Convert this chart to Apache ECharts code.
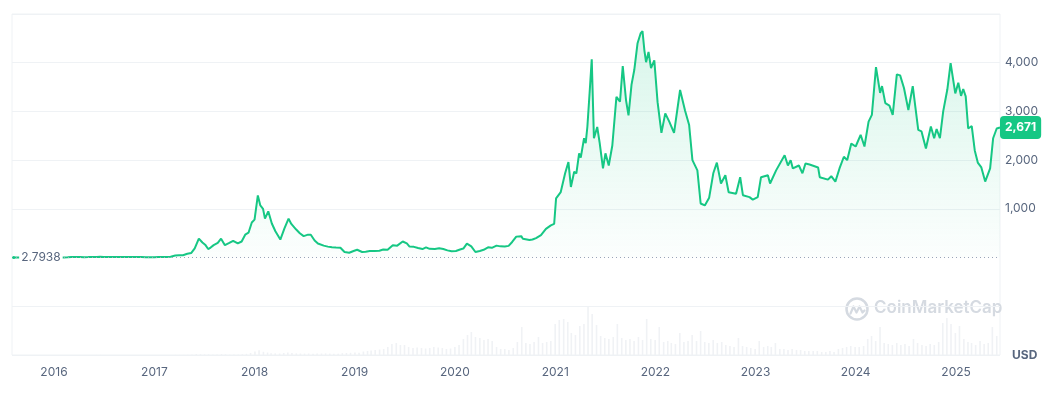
<!DOCTYPE html>
<html><head><meta charset="utf-8">
<script src="https://cdn.jsdelivr.net/npm/echarts@6/dist/echarts.min.js"></script>
<style>html,body{margin:0;padding:0;background:#fff}#c{width:1053px;height:398px}</style>
</head><body><div id="c"></div>
<script>
// ---- data (USD price, ETH) ----
const priceDates = [
'2015-08-07','2015-08-20','2015-09-05','2015-09-20','2015-10-05','2015-10-20','2015-11-05','2015-11-20','2015-12-05','2015-12-20',
'2016-01-05','2016-01-20','2016-02-05','2016-02-20','2016-03-05','2016-03-20','2016-04-05','2016-04-20','2016-05-05','2016-05-20','2016-06-05','2016-06-17','2016-06-30','2016-07-15','2016-08-01','2016-08-15','2016-09-01','2016-09-15','2016-10-01','2016-10-15','2016-11-01','2016-11-15','2016-12-01','2016-12-15',
'2017-01-01','2017-01-15','2017-02-01','2017-02-15','2017-03-01','2017-03-18','2017-04-01','2017-04-15','2017-05-01','2017-05-15','2017-05-28','2017-06-12','2017-06-25','2017-07-05','2017-07-16','2017-07-25','2017-08-05','2017-08-20','2017-09-01','2017-09-15','2017-10-01','2017-10-15','2017-11-01','2017-11-15','2017-11-28','2017-12-10','2017-12-22',
'2018-01-01','2018-01-13','2018-01-22','2018-02-01','2018-02-08','2018-02-20','2018-03-05','2018-03-18','2018-04-05','2018-04-20','2018-05-05','2018-05-15','2018-06-01','2018-06-15','2018-06-29','2018-07-15','2018-07-25','2018-08-08','2018-08-20','2018-09-10','2018-09-25','2018-10-10','2018-10-25','2018-11-10','2018-11-25','2018-12-12','2018-12-28',
'2019-01-10','2019-01-28','2019-02-10','2019-02-25','2019-03-15','2019-04-01','2019-04-15','2019-05-01','2019-05-20','2019-06-05','2019-06-25','2019-07-10','2019-07-20','2019-08-05','2019-08-20','2019-09-05','2019-09-18','2019-10-01','2019-10-20','2019-11-05','2019-11-20','2019-12-05','2019-12-20',
'2020-01-05','2020-01-20','2020-02-01','2020-02-14','2020-03-01','2020-03-16','2020-04-01','2020-04-15','2020-05-01','2020-05-15','2020-06-01','2020-06-15','2020-07-01','2020-07-15','2020-07-28','2020-08-12','2020-08-30','2020-09-05','2020-09-29','2020-10-10','2020-10-23','2020-11-10','2020-11-28','2020-12-16','2020-12-28',
'2021-01-04','2021-01-21','2021-02-06','2021-02-18','2021-02-27','2021-03-11','2021-03-19','2021-03-29','2021-04-04','2021-04-16','2021-04-22','2021-04-28','2021-05-07','2021-05-14','2021-05-22','2021-06-03','2021-06-12','2021-06-24','2021-07-03','2021-07-15','2021-07-28','2021-08-12','2021-08-25','2021-09-04','2021-09-16','2021-09-25','2021-10-06','2021-10-16','2021-10-28','2021-11-08','2021-11-15','2021-11-22','2021-11-28','2021-12-07','2021-12-16','2021-12-28',
'2022-01-09','2022-01-23','2022-02-06','2022-02-21','2022-03-10','2022-04-01','2022-04-19','2022-05-04','2022-05-16','2022-06-03','2022-06-15','2022-06-30','2022-07-16','2022-07-31','2022-08-13','2022-08-28','2022-09-13','2022-09-25','2022-10-22','2022-11-06','2022-11-16','2022-12-10','2022-12-22',
'2023-01-09','2023-01-21','2023-02-15','2023-02-23','2023-03-17','2023-04-17','2023-04-29','2023-05-09','2023-05-17','2023-06-08','2023-06-21','2023-07-02','2023-07-17','2023-08-17','2023-08-23','2023-09-22','2023-10-04','2023-10-19','2023-11-03','2023-11-19','2023-12-01','2023-12-16',
'2024-01-01','2024-01-19','2024-02-02','2024-02-17','2024-02-29','2024-03-15','2024-03-30','2024-04-06','2024-04-18','2024-05-03','2024-05-15','2024-05-30','2024-06-11','2024-06-25','2024-07-11','2024-07-27','2024-08-16','2024-08-28','2024-09-13','2024-10-01','2024-10-13','2024-10-22','2024-11-03','2024-11-15','2024-11-30','2024-12-12','2024-12-29',
'2025-01-09','2025-01-19','2025-01-27','2025-02-05','2025-02-14','2025-02-27','2025-03-10','2025-03-21','2025-04-03','2025-04-17','2025-05-05','2025-05-16','2025-05-29','2025-06-10'
];
const prices = [
2.7938,1.35,1.25,0.88,0.62,0.48,1.05,0.93,0.85,0.88,
0.96,1.6,2.5,4.5,10.5,11.0,10.5,8.2,9.5,13.5,14.0,18.5,12.5,11.5,10.5,11.0,12.0,12.5,13.2,12.0,10.8,9.9,8.5,7.8,
8.2,9.8,10.7,13.0,17,42,50,48,78,92,190,390,310,265,175,205,255,300,388,255,300,345,290,330,470,510,720,
780,1275,1070,1000,800,950,700,540,370,600,800,690,580,500,440,470,470,350,290,245,225,210,205,200,115,100,135,
160,115,120,135,135,140,165,160,255,245,330,290,225,220,195,175,210,180,175,190,175,148,128,
135,165,185,285,230,115,135,160,210,200,245,230,228,240,320,430,440,385,360,370,400,460,590,660,690,
1215,1345,1730,1960,1450,1760,1730,2140,2050,2450,2350,2680,3450,4070,2450,2680,2350,1830,2140,1890,2300,3300,3200,3930,3230,2920,3550,3850,4400,4600,4650,4250,4010,4220,3890,4050,
3190,2560,2960,2785,2560,3440,3020,2720,2000,1790,1110,1070,1230,1730,1950,1520,1690,1340,1310,1650,1280,1240,1190,
1240,1650,1690,1520,1790,2100,1890,2000,1830,1890,1730,1930,1910,1850,1650,1600,1670,1560,1830,2070,2000,2340,
2280,2520,2280,2790,2930,3910,3380,3520,3170,3120,2930,3760,3740,3480,3030,3520,2620,2590,2240,2690,2450,2640,2450,3000,3450,3990,3370,
3590,3320,3460,3310,2650,2700,2200,1950,1850,1560,1830,2450,2650,2671
];
// trading volume, billions USD, twice a month (1st and 16th)
const vol2015 = [0.002,0.001,0.001,0.001,0.001,0.001,0.001,0.001,0.001,0.002];
const vol2016 = [0.002,0.005,0.02,0.03,0.08,0.1,0.05,0.04,0.03,0.03,0.08,0.15,0.1,0.05,0.03,0.03,0.03,0.02,0.02,0.02,0.02,0.02,0.02,0.02];
const vol2017 = [0.02,0.02,0.03,0.03,0.08,0.15,0.12,0.12,0.3,0.5,0.9,0.8,0.7,0.6,0.6,0.5,0.9,0.6,0.4,0.4,0.5,0.8,1.2,2.0];
const vol2018 = [3.5,4.8,3.2,2.5,1.8,1.6,1.5,2.0,2.4,1.9,1.6,1.5,1.4,1.5,1.3,1.4,1.5,1.6,1.4,1.3,1.3,1.8,2.0,2.2];
const vol2019 = [2.5,2.2,3.5,4,4.5,5,5.5,6,8,11,12,10,10,8,7,7.5,7,6.5,7,8,7.5,7,6,6.5];
const vol2020 = [8,10,16,20,23,18,17,15,16,14,8,6,6,5,7,13,28,12,11,13,18,12,13,14];
const vol2021 = [31,35,36,33,22,20,29,31,48,41,30,19,17,16,18,31,17,15,16,14,18,15,36,16];
const vol2022 = [15,28,13,14,12,11,22,13,14,20,14,24,13,12,15,12,13,10,9,8,17,9,8,7];
const vol2023 = [6,14,8,9,8,12,6,6,5,6,5,5,4,4,4,4,3,3,4,3,6,7,8,9];
const vol2024 = [8,8,9,16,19,14,28,12,11,10,12,10,11,9,16,12,10,9,11,10,13,32,37,31];
const vol2025 = [22,29,16,13,12,10,14,11,12,28,19];
const priceTickLabels = [1000, 2000, 3000, 4000];
const startPrice = 2.7938;
const lastPrice = 2671;

// ---- build series ----
const priceData = priceDates.map((d, i) => [d, prices[i]]);
const volumes = [].concat(vol2015, vol2016, vol2017, vol2018, vol2019, vol2020, vol2021, vol2022, vol2023, vol2024, vol2025);
const volData = [];
{
  let y = 2015, m = 8, half = 0;
  for (let i = 0; i < volumes.length; i++) {
    volData.push([y + '-' + String(m).padStart(2, '0') + (half ? '-16' : '-01'), volumes[i]]);
    if (half) { half = 0; m++; if (m > 12) { m = 1; y++; } } else half = 1;
  }
}
const GREEN = '#16c784';
const LABEL = '#58667e';
const GRID = '#eff2f5';
const FONT = 'Inter, "Noto Sans", sans-serif';

const chart = echarts.init(document.getElementById('c'), null, {renderer: 'canvas'});
chart.setOption({
  animation: false,
  textStyle: {fontFamily: FONT},
  grid: [
    {left: 12, right: 53, top: 14, bottom: 43, show: true, borderColor: GRID, borderWidth: 1},
    {left: 12, right: 53, top: 300, bottom: 43}
  ],
  xAxis: [
    {type: 'time', gridIndex: 0, min: '2015-08-01', max: '2025-06-10', splitNumber: 10,
     minInterval: 360 * 24 * 3600 * 1000,
     axisLine: {show: false}, axisTick: {show: false}, splitLine: {show: false},
     axisLabel: {color: LABEL, fontSize: 12, margin: 11, fontFamily: FONT,
       formatter: {year: '{yyyy}', month: '', day: '', hour: '', minute: '', second: '', millisecond: '', none: ''}}},
    {type: 'time', gridIndex: 1, min: '2015-08-01', max: '2025-06-10', show: false}
  ],
  yAxis: [
    {type: 'value', gridIndex: 0, position: 'right', min: -2000, max: 5000, interval: 1000,
     axisLine: {show: false}, axisTick: {show: false},
     splitLine: {show: true, lineStyle: {color: [GRID, GRID, 'rgba(0,0,0,0)', GRID, GRID, GRID, GRID, GRID], width: 1}},
     axisLabel: {color: LABEL, fontSize: 12, margin: 5, fontFamily: FONT,
       formatter: v => priceTickLabels.indexOf(v) >= 0 ? v.toLocaleString('en-US') : (v === -2000 ? '{u|USD}' : ''),
       rich: {u: {fontWeight: 'bold', fontSize: 12, color: LABEL, padding: [0, 0, 0, 7], fontFamily: FONT}}}},
    {type: 'value', gridIndex: 1, min: 0, max: 55, show: false}
  ],
  series: [
    {type: 'bar', xAxisIndex: 1, yAxisIndex: 1, data: volData, barWidth: 1.6,
     itemStyle: {color: '#f0f2f5'}, silent: true, z: 1},
    {type: 'line', xAxisIndex: 0, yAxisIndex: 0, data: priceData, showSymbol: false, smooth: false,
     lineStyle: {color: GREEN, width: 2}, z: 3,
     areaStyle: {origin: 0, color: new echarts.graphic.LinearGradient(0, 0, 0, 1, [
       {offset: 0, color: 'rgba(22,199,132,0.24)'}, {offset: 1, color: 'rgba(22,199,132,0.02)'}])},
     markLine: {silent: true, symbol: 'none', label: {show: false},
       lineStyle: {color: '#9aa5b8', type: [1, 3], width: 1},
       data: [{yAxis: startPrice}]},
     markPoint: {silent: true, data: [
       {coord: [priceDates[0], startPrice], symbol: 'circle', symbolSize: 3, itemStyle: {color: GREEN},
        label: {show: true, position: 'right', distance: 4, formatter: String(startPrice), color: LABEL,
          fontSize: 12, backgroundColor: '#fff', padding: [1, 2], fontFamily: FONT}},
       {coord: [priceDates[priceDates.length - 1], lastPrice], symbol: 'circle', symbolSize: 0,
        label: {show: true, position: 'right', distance: 0, formatter: lastPrice.toLocaleString('en-US'),
          color: '#fff', fontWeight: 'bold', fontSize: 12, backgroundColor: GREEN, borderRadius: 4,
          padding: [6, 5, 5, 5], fontFamily: FONT}}
     ]}}
  ],
  graphic: [
    {type: 'group', left: 844, top: 296, silent: true, z: 0, children: [
      {type: 'circle', shape: {cx: 11.5, cy: 11.5, r: 10.5}, style: {fill: 'none', stroke: '#d5dae1', lineWidth: 2.5}},
      {type: 'polyline', shape: {points: [[5, 16], [8, 9], [11, 15], [14, 9], [17, 15], [19, 13]]},
       style: {fill: 'none', stroke: '#d5dae1', lineWidth: 2.2, lineJoin: 'round', lineCap: 'round'}}
    ]},
    {type: 'text', left: 874, top: 299, silent: true, z: 0,
     style: {text: 'CoinMarketCap', fill: '#d5dae1', fontSize: 17, fontWeight: 600, fontFamily: FONT}}
  ]
});
</script>
</body></html>
